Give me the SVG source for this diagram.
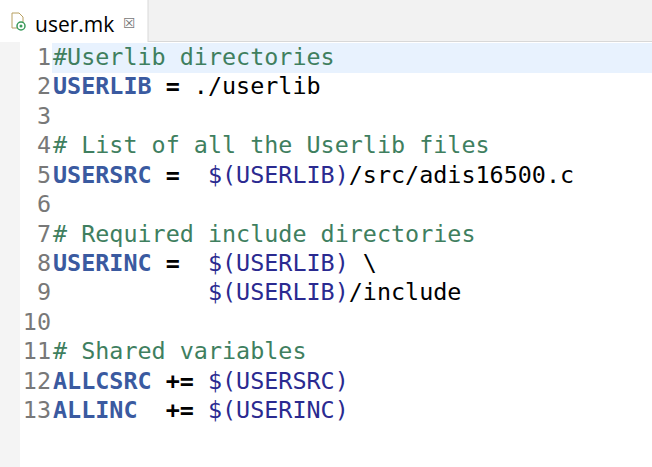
<svg xmlns="http://www.w3.org/2000/svg" width="652" height="467" viewBox="0 0 652 467">
<style>
text{font-family:"DejaVu Sans Mono","Liberation Mono",monospace;font-size:23.4px;white-space:pre}
.n{fill:#787878;text-anchor:end}
.c{fill:#3f7f5f}
.k{fill:#3a5aa0;font-weight:bold}
.o{fill:#000;font-weight:bold}
.v{fill:#2a2a90}
.p{fill:#000}
</style>
<rect width="652" height="467" fill="#fff"/>
<rect x="0" y="0" width="652" height="42" fill="#f2f2f2"/>
<rect x="0" y="0" width="148" height="42" fill="#fff"/>
<line x1="148" y1="0" x2="148" y2="42" stroke="#d8d8d8"/>
<line x1="148" y1="41.5" x2="652" y2="41.5" stroke="#d8d8d8"/>
<rect x="0" y="42" width="20" height="425" fill="#f4f4f4"/>
<rect x="52" y="43" width="600" height="30" fill="#e8f2fe"/>
<g id="tab">
<path d="M12 13 h7 l4 4 v11 h-11 z" fill="#fff" stroke="#b8a060"/>
<circle cx="21" cy="26" r="4" fill="#fff" stroke="#3a9a5a" stroke-width="1.5"/>
<circle cx="21" cy="26" r="1.5" fill="#3a9a5a"/>
<text x="35" y="32" style="font-family:'Open Sans','Noto Sans',sans-serif;font-size:21px" fill="#000">user.mk</text>
<text x="123" y="28" style="font-family:'DejaVu Sans',sans-serif;font-size:14px" fill="#777">☒</text>
</g>
<g id="code">
<text class="n" x="51" y="65">1</text><text x="53" y="65" class="c">#Userlib directories</text>
<text class="n" x="51" y="94">2</text><text x="53" y="94"><tspan class="k">USERLIB</tspan><tspan class="o"> = </tspan><tspan class="p">./userlib</tspan></text>
<text class="n" x="51" y="124">3</text>
<text class="n" x="51" y="153">4</text><text x="53" y="153" class="c"># List of all the Userlib files</text>
<text class="n" x="51" y="183">5</text><text x="53" y="183"><tspan class="k">USERSRC</tspan><tspan class="o"> =  </tspan><tspan class="v">$(USERLIB)</tspan><tspan class="p">/src/adis16500.c</tspan></text>
<text class="n" x="51" y="212">6</text>
<text class="n" x="51" y="242">7</text><text x="53" y="242" class="c"># Required include directories</text>
<text class="n" x="51" y="271">8</text><text x="53" y="271"><tspan class="k">USERINC</tspan><tspan class="o"> =  </tspan><tspan class="v">$(USERLIB)</tspan><tspan class="p"> \</tspan></text>
<text class="n" x="51" y="300">9</text><text x="53" y="300"><tspan class="p">           </tspan><tspan class="v">$(USERLIB)</tspan><tspan class="p">/include</tspan></text>
<text class="n" x="51" y="330">10</text>
<text class="n" x="51" y="359">11</text><text x="53" y="359" class="c"># Shared variables</text>
<text class="n" x="51" y="389">12</text><text x="53" y="389"><tspan class="k">ALLCSRC</tspan><tspan class="o"> += </tspan><tspan class="v">$(USERSRC)</tspan></text>
<text class="n" x="51" y="418">13</text><text x="53" y="418"><tspan class="k">ALLINC</tspan><tspan class="o">  += </tspan><tspan class="v">$(USERINC)</tspan></text>
</g>
<g id="connectors"/>
</svg>
